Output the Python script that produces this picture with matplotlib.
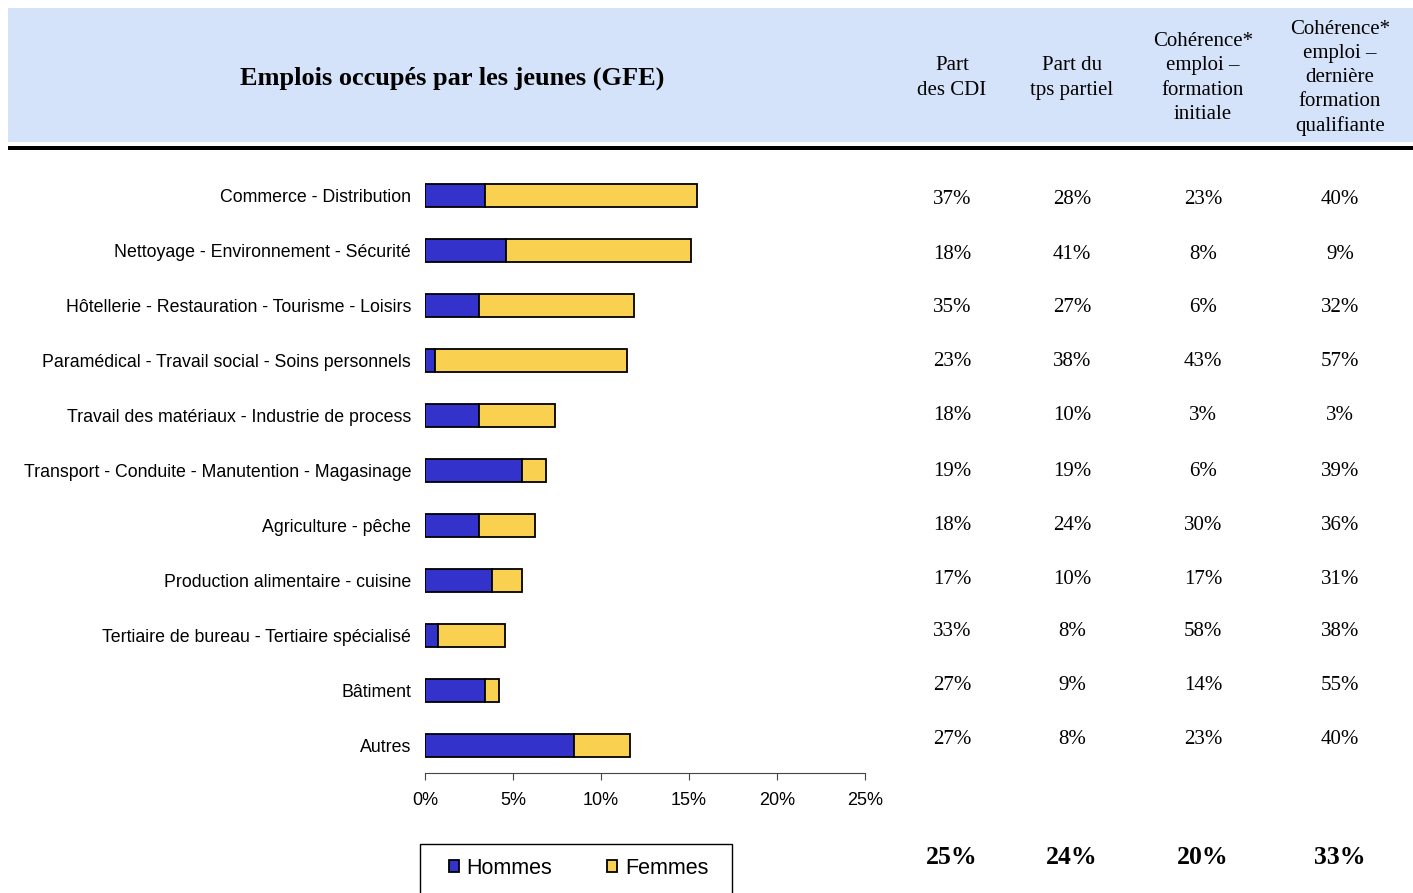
import numpy as np
import matplotlib
matplotlib.use('Agg')
import matplotlib.pyplot as plt
from matplotlib.patches import Rectangle

################################### DATA #####################################

categories = ['Commerce - Distribution',
              'Nettoyage - Environnement - Sécurité',
              'Hôtellerie - Restauration - Tourisme - Loisirs',
              'Paramédical - Travail social - Soins personnels',
              'Travail des matériaux - Industrie de process',
              'Transport - Conduite - Manutention - Magasinage',
              'Agriculture - pêche',
              'Production alimentaire - cuisine',
              'Tertiaire de bureau - Tertiaire spécialisé',
              'Bâtiment',
              'Autres']

hommes = [3.4, 4.6, 3.05, 0.57, 3.05, 5.5, 3.05, 3.8, 0.76, 3.4, 8.45]
femmes = [12.05, 10.5, 8.8, 10.93, 4.35, 1.35, 3.22, 1.72, 3.81, 0.78, 3.22]

part_cdi = ['37%', '18%', '35%', '23%', '18%', '19%', '18%', '17%', '33%', '27%', '27%']
part_tps_partiel = ['28%', '41%', '27%', '38%', '10%', '19%', '24%', '10%', '8%', '9%', '8%']
coherence_initiale = ['23%', '8%', '6%', '43%', '3%', '6%', '30%', '17%', '58%', '14%', '23%']
coherence_qualifiante = ['40%', '9%', '32%', '57%', '3%', '39%', '36%', '31%', '38%', '55%', '40%']
totaux = ['25%', '24%', '20%', '33%']

column_headers = ['Part\ndes CDI',
                  'Part du\ntps partiel',
                  'Cohérence*\nemploi –\nformation\ninitiale',
                  'Cohérence*\nemploi –\ndernière\nformation\nqualifiante']

title = 'Emplois occupés par les jeunes (GFE)'

################################### FIGURE ###################################

W, H = 1413, 893
fig = plt.figure(figsize=(W/100, H/100), dpi=100)

def fx(px):   # pixel -> figure coords
    return px/W
def fy(py):
    return 1-py/H

# header band + thick rule under it
fig.patches.append(Rectangle((fx(8), fy(142)), fx(W)-fx(8), fy(8)-fy(142),
                             transform=fig.transFigure, facecolor='#D5E3FA',
                             edgecolor='none', zorder=0))
fig.patches.append(Rectangle((fx(8), fy(150)), fx(W)-fx(8), fy(146)-fy(150),
                             transform=fig.transFigure, facecolor='black',
                             edgecolor='none', zorder=1))

serif = 'Liberation Serif'
sans = 'Liberation Sans'

fig.text(fx(452), fy(78), title, ha='center', va='center', family=serif,
         fontsize=19, fontweight='bold')

col_x = [952, 1072, 1203, 1340]
for x, lab in zip(col_x, column_headers):
    fig.text(fx(x), fy(78), lab, ha='center', va='center', family=serif,
             fontsize=15, linespacing=1.36)

################################### BARS #####################################

ax = fig.add_axes([fx(425), fy(772.5), fx(865)-fx(425), fy(168.5)-fy(772.5)])
y = np.arange(len(categories))
ax.barh(y, hommes, height=0.42, color='#3333CC', edgecolor='black', linewidth=1.3, label='Hommes')
ax.barh(y, femmes, left=hommes, height=0.42, color='#F9D04F', edgecolor='black', linewidth=1.3, label='Femmes')
ax.set_ylim(len(categories)-0.5, -0.5)
ax.set_xlim(0, 25)
ax.set_xticks(np.arange(0, 26, 5))
ax.set_xticklabels([str(v)+'%' for v in range(0, 26, 5)], family=sans, fontsize=13)
ax.set_yticks(y)
ax.set_yticklabels(categories, family=sans, fontsize=12.8)
ax.tick_params(axis='y', length=0, pad=10)
ax.tick_params(axis='x', length=5, color='#444444', pad=9)
for s in ['top', 'right', 'left']:
    ax.spines[s].set_visible(False)
ax.spines['bottom'].set_color('#444444')

# legend box at the bottom (frame drawn by hand, runs off the bottom edge)
fig.patches.append(Rectangle((fx(420), fy(900)), fx(732)-fx(420), fy(844)-fy(900),
                             transform=fig.transFigure, facecolor='white',
                             edgecolor='black', linewidth=1, zorder=2))
leg = fig.legend(loc='center left', bbox_to_anchor=(fx(449), fy(868)), ncol=2,
                 frameon=False, prop={'family': sans, 'size': 15.5},
                 handlelength=0.47, handleheight=0.47, handletextpad=0.35,
                 borderpad=0, borderaxespad=0, columnspacing=2.55)
leg.set_zorder(3)

################################### TABLE ####################################

row_y = [200, 254, 308, 362, 416, 471, 525, 579, 631, 685, 739]
columns = [part_cdi, part_tps_partiel, coherence_initiale, coherence_qualifiante]
for x, col in zip(col_x, columns):
    for yy, val in zip(row_y, col):
        fig.text(fx(x), fy(yy), val, ha='center', va='center', family=serif, fontsize=15)

for x, val in zip(col_x, totaux):
    fig.text(fx(x), fy(857), val, ha='center', va='center', family=serif,
             fontsize=18.5, fontweight='bold')

fig.savefig('out.png', dpi=100)
